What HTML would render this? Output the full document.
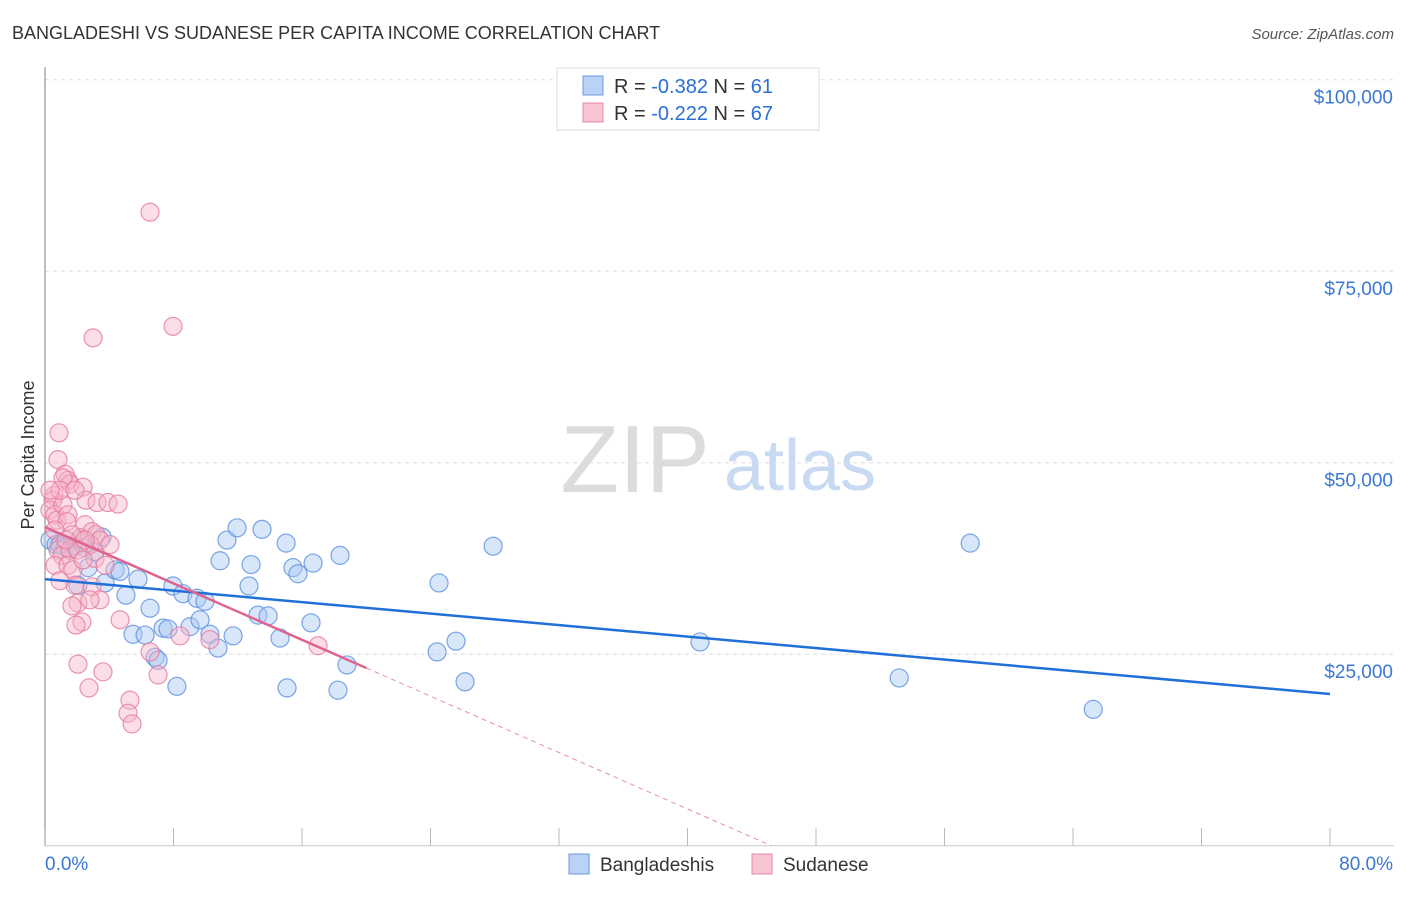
<!DOCTYPE html>
<html><head><meta charset="utf-8">
<style>
html,body{margin:0;padding:0;background:#fff;}
body{width:1406px;height:892px;overflow:hidden;font-family:"Liberation Sans",sans-serif;}
svg text{font-family:"Liberation Sans",sans-serif;}
</style></head>
<body>
<svg id="chart" width="1406" height="892" xmlns="http://www.w3.org/2000/svg">
  <text x="12" y="39" font-size="18" fill="#333">BANGLADESHI VS SUDANESE PER CAPITA INCOME CORRELATION CHART</text>
  <text x="1394" y="39" font-size="15" fill="#555" font-style="italic" text-anchor="end">Source: ZipAtlas.com</text>
  <g>
    <text x="635" y="492" font-size="96" fill="#dcdcdc" font-family="Liberation Serif" text-anchor="middle">ZIP</text>
    <text x="800" y="490" font-size="72" fill="#c8daf2" text-anchor="middle">atlas</text>
  </g>
  <g id="grid"></g>
  <g id="axes"></g>
  <g id="pts"></g>
  <g id="trends"></g>
  <text transform="translate(34,455) rotate(-90)" font-size="18" fill="#333" text-anchor="middle">Per Capita Income</text>
  <g>
    <rect x="557" y="68" width="262" height="62" fill="#fff" stroke="#ddd"/>
    <rect x="583" y="76" width="20" height="19" fill="#b9d2f5" stroke="#6e9be0"/>
    <text x="614" y="93" font-size="20" fill="#333">R = <tspan fill="#2a6fd6">-0.382</tspan>   N = <tspan fill="#2a6fd6"> 61</tspan></text>
    <rect x="583" y="103" width="20" height="19" fill="#f8c4d2" stroke="#e88aa8"/>
    <text x="614" y="120" font-size="20" fill="#333">R = <tspan fill="#2a6fd6">-0.222</tspan>   N = <tspan fill="#2a6fd6">67</tspan></text>
  </g>
  <g>
    <rect x="569" y="854" width="20" height="20" fill="#b9d2f5" stroke="#6e9be0"/>
    <text x="600" y="871" font-size="19" fill="#333">Bangladeshis</text>
    <rect x="752" y="854" width="20" height="20" fill="#f8c4d2" stroke="#e88aa8"/>
    <text x="783" y="871" font-size="19" fill="#333">Sudanese</text>
  </g>
</svg>
<script>
const xTickVals=[0,8,16,24,32,40,48,56,64,72,80];
const xTickLabels=["0.0%","80.0%"];
const yTickVals=[25,50,75,100];
const yTickLabels=["$25,000","$50,000","$75,000","$100,000"];
const blueX=[0.31,0.69,1.25,1.56,1.87,2.18,2.49,3.11,3.55,2.68,2.05,3.74,4.36,4.67,5.04,5.79,5.48,6.23,6.54,6.85,7.04,7.35,7.66,7.97,8.21,8.59,9.03,9.46,9.65,9.96,10.27,10.77,10.90,11.33,11.71,11.96,12.70,12.83,13.26,13.51,13.89,14.63,15.01,15.07,15.44,15.75,16.56,16.69,18.24,18.37,18.80,24.41,24.53,25.59,26.15,27.90,40.78,53.18,57.60,65.26,0.93];
const blueY=[39.9,39.3,38.9,38.6,39.1,39.9,38.9,38.4,40.3,36.3,34.0,34.3,36.0,35.8,32.7,34.8,27.6,27.5,31.0,24.6,24.2,28.4,28.3,33.9,20.8,32.9,28.6,32.3,29.5,31.9,27.6,25.8,37.2,39.9,27.4,41.5,33.9,36.7,30.1,41.3,30.0,27.1,39.5,20.6,36.3,35.5,29.1,36.9,20.3,37.9,23.6,25.3,34.3,26.7,21.4,39.1,26.6,21.9,39.5,17.8,39.3];
const pinkX=[0.87,0.81,1.25,1.43,1.56,1.12,2.37,0.56,0.50,0.31,0.62,0.75,1.12,1.43,1.37,2.55,3.24,3.92,4.55,2.49,2.93,3.18,2.18,1.68,0.81,1.06,1.56,2.80,3.42,0.62,1.43,1.74,3.11,0.93,1.87,2.93,2.05,3.42,1.68,2.30,1.93,4.67,6.54,7.04,7.97,6.54,2.99,2.05,3.61,2.74,5.29,5.17,5.42,10.27,17.00,0.62,0.93,2.05,4.05,0.31,2.49,1.31,3.74,2.37,8.41,1.87,2.80];
const pinkY=[53.9,50.4,48.5,47.7,47.2,48.0,46.8,45.7,45.1,43.8,43.2,42.5,44.5,43.2,42.3,45.1,44.8,44.8,44.6,41.9,41.0,40.6,40.2,40.6,38.6,37.9,38.6,39.3,39.9,36.6,36.6,36.0,37.5,34.6,34.0,33.8,31.7,32.1,31.3,29.2,28.8,29.5,25.3,22.3,67.8,82.7,66.3,23.7,22.7,20.6,19.0,17.3,15.9,26.9,26.1,41.2,46.4,38.6,39.3,46.4,39.9,39.9,36.6,37.3,27.4,46.4,32.1];
const blueTrend=[34.8,19.8];      // value at x=0 and x=80
const pinkTrend=[41.6,-0.92];     // intercept, slope per %
const pinkSolidEnd=20;

const NS="http://www.w3.org/2000/svg";
const X0=45,X1=1330,Y0=845.7,Y100=79.7;
const sx=v=>X0+(X1-X0)*v/80;
const sy=v=>Y0-(Y0-Y100)*v/100;
function mk(tag,attrs,parent){const e=document.createElementNS(NS,tag);for(const k in attrs)e.setAttribute(k,attrs[k]);parent.appendChild(e);return e;}
const grid=document.getElementById('grid'),axes=document.getElementById('axes'),pts=document.getElementById('pts'),tr=document.getElementById('trends');
yTickVals.forEach((v,i)=>{
  const l=mk('line',{x1:X0,x2:1394,y1:sy(v),y2:sy(v),stroke:'#ddd','stroke-dasharray':'4,4'},grid);
  
  
  const t=mk('text',{x:1393,y:sy(v)+24,'font-size':19,fill:'#3a78d4','text-anchor':'end'},axes);
  t.textContent=yTickLabels[i];
  
  
});
const ya=mk('line',{x1:X0,x2:X0,y1:67,y2:Y0,stroke:'#aaa','stroke-width':1.5},axes);


const xa=mk('line',{x1:X0,x2:1394,y1:Y0,y2:Y0,stroke:'#ccc'},axes);


xTickVals.forEach(v=>{
  const t=mk('line',{x1:sx(v),x2:sx(v),y1:828,y2:Y0,stroke:'#bbb'},axes);
  
  
});
const xl0=mk('text',{x:45,y:870,'font-size':19,fill:'#3a78d4'},axes);xl0.textContent=xTickLabels[0];


const xl1=mk('text',{x:1393,y:870,'font-size':19,fill:'#3a78d4','text-anchor':'end'},axes);xl1.textContent=xTickLabels[1];


function drawPts(xs,ys,fill,stroke,name){
  xs.forEach((x,i)=>{
    const c=mk('circle',{cx:sx(x),cy:sy(ys[i]),r:9,fill:fill,'fill-opacity':0.45,stroke:stroke,'stroke-width':1.2,'stroke-opacity':0.8},pts);
    
    
  });
}
drawPts(blueX,blueY,'#a9c7f2','#5b8fe0','point-bangladeshi');
drawPts(pinkX,pinkY,'#f7b6c9','#e57a9d','point-sudanese');
const bl=mk('line',{x1:sx(0),y1:sy(blueTrend[0]),x2:sx(80),y2:sy(blueTrend[1]),stroke:'#2070d8','stroke-width':2.5},tr);


const pEnd=-pinkTrend[0]/pinkTrend[1];
const pd=mk('line',{x1:sx(pinkSolidEnd),y1:sy(pinkTrend[0]+pinkTrend[1]*pinkSolidEnd),x2:sx(pEnd),y2:sy(0),stroke:'#e590ab','stroke-width':1,'stroke-dasharray':'5,4'},tr);


const pl=mk('line',{x1:sx(0),y1:sy(pinkTrend[0]),x2:sx(pinkSolidEnd),y2:sy(pinkTrend[0]+pinkTrend[1]*pinkSolidEnd),stroke:'#e0628f','stroke-width':2.5},tr);


</script>
</body></html>
